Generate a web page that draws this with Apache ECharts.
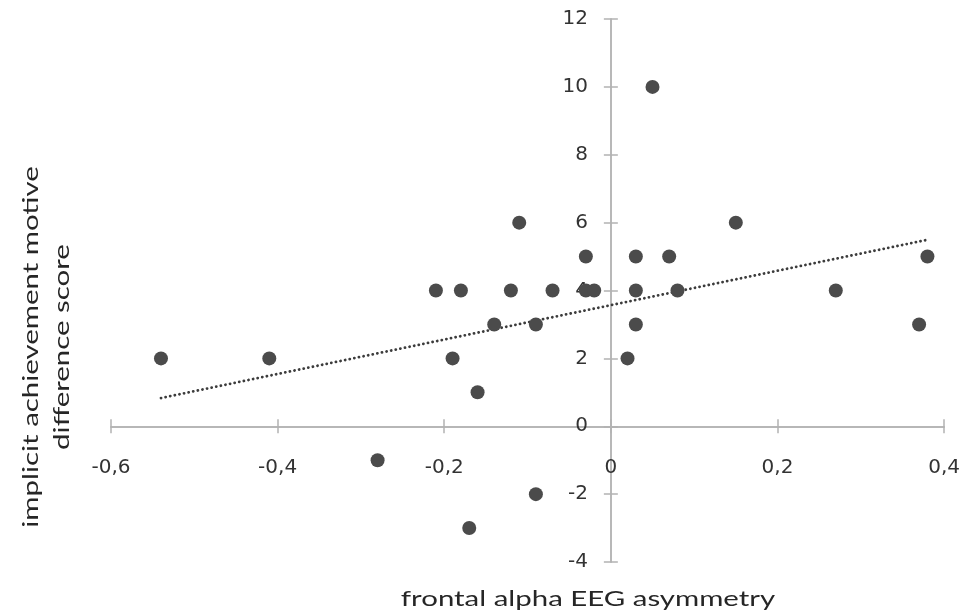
<!DOCTYPE html>
<html>
<head>
<meta charset="utf-8">
<script src="https://cdn.jsdelivr.net/npm/echarts@6/dist/echarts.min.js"></script>
<style>
html,body{margin:0;padding:0;background:#fff;}
#chart{width:963px;height:616px;}
</style>
</head>
<body>
<div id="chart"></div>
<script>
// Data
var asymmetry = [-0.54, -0.41, -0.28, -0.21, -0.19, -0.18, -0.17, -0.16, -0.14, -0.12, -0.11, -0.09, -0.09, -0.07, -0.03, -0.03, -0.02, 0.02, 0.03, 0.03, 0.03, 0.05, 0.07, 0.08, 0.15, 0.27, 0.37, 0.38];
var motiveScore = [2, 2, -1, 4, 2, 4, -3, 1, 3, 4, 6, 3, -2, 4, 5, 4, 4, 2, 5, 4, 3, 10, 5, 4, 6, 4, 3, 5];
var xTickLabels = ['-0,6', '-0,4', '-0,2', '0', '0,2', '0,4'];
var yTickLabels = ['-4', '-2', '0', '2', '4', '6', '8', '10', '12'];
var xTitle = 'frontal alpha EEG asymmetry';
var yTitle = ['implicit achievement motive', 'difference score'];

var TITLE_FONT = 'Lato, "Open Sans", sans-serif';
var TICK_FONT = '"DejaVu Sans", Verdana, sans-serif';
var xMin = -0.6, xMax = 0.4, xStep = 0.2;
var yMin = -4, yMax = 12, yStep = 2;

var points = asymmetry.map(function (x, i) { return [x, motiveScore[i]]; });

// linear least-squares trendline (Excel-style), spanning the data range
var n = asymmetry.length, sx = 0, sy = 0, sxx = 0, sxy = 0;
for (var i = 0; i < n; i++) {
  sx += asymmetry[i]; sy += motiveScore[i];
  sxx += asymmetry[i] * asymmetry[i]; sxy += asymmetry[i] * motiveScore[i];
}
var slope = (n * sxy - sx * sy) / (n * sxx - sx * sx);
var intercept = (sy - slope * sx) / n;
var dMin = Math.min.apply(null, asymmetry), dMax = Math.max.apply(null, asymmetry);
var trend = [[dMin, intercept + slope * dMin], [dMax, intercept + slope * dMax]];

function xLabel(v) {
  var idx = Math.round((v - xMin) / xStep);
  return xTickLabels[idx] !== undefined ? xTickLabels[idx] : '';
}
function yLabel(v) {
  var idx = Math.round((v - yMin) / yStep);
  return yTickLabels[idx] !== undefined ? yTickLabels[idx] : '';
}

var axisColor = '#b3b3b3';
var labelColor = '#333333';

var chart = echarts.init(document.getElementById('chart'), null, {renderer: 'canvas'});
chart.setOption({
  animation: false,
  backgroundColor: '#ffffff',
  grid: {left: 111, right: 17, top: 19, bottom: 54, containLabel: false},
  xAxis: [{
    type: 'value', min: xMin, max: xMax, interval: xStep, position: 'bottom',
    axisLine: {show: true, onZero: true, onZeroAxisIndex: 0, lineStyle: {color: axisColor, width: 1.5}},
    axisTick: {show: true, inside: false, length: 7, lineStyle: {color: axisColor, width: 1.5}},
    axisLabel: {show: true, margin: -104, formatter: xLabel, color: labelColor, fontSize: 20, fontFamily: TICK_FONT},
    splitLine: {show: false}
  }, {
    type: 'value', min: xMin, max: xMax, interval: xStep, position: 'bottom',
    axisLine: {show: true, onZero: true, onZeroAxisIndex: 0, lineStyle: {color: axisColor, width: 1.5}},
    axisTick: {show: true, inside: true, length: 7, lineStyle: {color: axisColor, width: 1.5}},
    axisLabel: {show: false},
    splitLine: {show: false}
  }],
  yAxis: [{
    type: 'value', min: yMin, max: yMax, interval: yStep, position: 'left',
    axisLine: {show: true, onZero: true, onZeroAxisIndex: 0, lineStyle: {color: axisColor, width: 1.5}},
    axisTick: {show: true, inside: false, length: 7, lineStyle: {color: axisColor, width: 1.5}},
    axisLabel: {show: true, margin: -477, formatter: yLabel, color: labelColor, fontSize: 20, fontFamily: TICK_FONT},
    splitLine: {show: false}
  }, {
    type: 'value', min: yMin, max: yMax, interval: yStep, position: 'left',
    axisLine: {show: true, onZero: true, onZeroAxisIndex: 0, lineStyle: {color: axisColor, width: 1.5}},
    axisTick: {show: true, inside: true, length: 7, lineStyle: {color: axisColor, width: 1.5}},
    axisLabel: {show: false},
    splitLine: {show: false}
  }],
  series: [{
    type: 'line', data: trend, xAxisIndex: 0, yAxisIndex: 0,
    symbol: 'none', silent: true, z: 3,
    lineStyle: {color: '#3c3c3c', width: 2.8, type: [0.1, 4.6], cap: 'round'}
  }, {
    type: 'scatter', data: points, xAxisIndex: 0, yAxisIndex: 0,
    symbol: 'circle', symbolSize: 14, z: 4,
    itemStyle: {color: '#4b4b4b', opacity: 1}
  }],
  graphic: [{
    type: 'text', x: 588, y: 599, scaleX: 1.4, scaleY: 1,
    style: {text: xTitle, font: '21px ' + TITLE_FONT, fill: '#262626',
            align: 'center', verticalAlign: 'middle'}
  }, {
    type: 'text', x: 47, y: 347, rotation: Math.PI / 2, scaleX: 1.4, scaleY: 1,
    style: {text: yTitle.join('\n'), font: '21px ' + TITLE_FONT, fill: '#262626',
            align: 'center', verticalAlign: 'middle', lineHeight: 31}
  }]
});
</script>
</body>
</html>
